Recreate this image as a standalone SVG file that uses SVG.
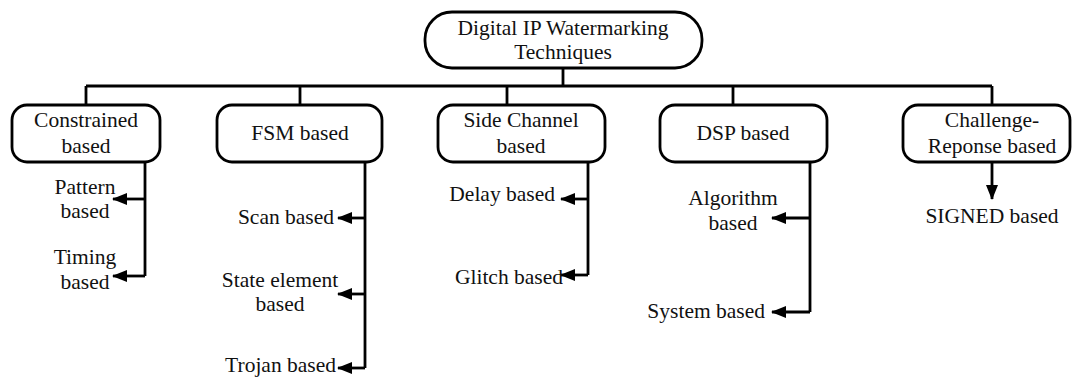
<svg xmlns="http://www.w3.org/2000/svg" width="1073" height="378" viewBox="0 0 1073 378">
<style>
.box{fill:#fff;stroke:#000;stroke-width:2.8}
.ln{fill:none;stroke:#000;stroke-width:2.8}
text{font-family:"Liberation Serif","Times New Roman",serif;font-size:21.5px;fill:#111}
.c{text-anchor:middle}
.e{text-anchor:end}
</style>
<defs>
<marker id="ah" markerWidth="15" markerHeight="12" refX="14" refY="6" orient="auto" markerUnits="userSpaceOnUse">
<path d="M0,0 L15,6 L0,12 Z" fill="#000"/>
</marker>
</defs>
<rect width="1073" height="378" fill="#fff"/>
<g id="connectors">
<path class="ln" d="M563,68 V86 M86,86 H992 M86,86 V105 M300,86 V105 M507,86 V105 M733,86 V105 M992,86 V105"/>
<path class="ln" d="M145,162 V276"/>
<path class="ln" d="M145,199 H113" marker-end="url(#ah)"/>
<path class="ln" d="M145,276 H113" marker-end="url(#ah)"/>
<path class="ln" d="M365,162 V368"/>
<path class="ln" d="M365,218 H338" marker-end="url(#ah)"/>
<path class="ln" d="M365,294 H338" marker-end="url(#ah)"/>
<path class="ln" d="M365,368 H338" marker-end="url(#ah)"/>
<path class="ln" d="M588,162 V275"/>
<path class="ln" d="M588,199 H561" marker-end="url(#ah)"/>
<path class="ln" d="M588,275 H561" marker-end="url(#ah)"/>
<path class="ln" d="M810,162 V312"/>
<path class="ln" d="M810,218 H772" marker-end="url(#ah)"/>
<path class="ln" d="M810,312 H772" marker-end="url(#ah)"/>
<path class="ln" d="M992,162 V199" marker-end="url(#ah)"/>
</g>
<g id="root">
<rect class="box" x="425" y="12" width="277" height="56" rx="27"/>
<text class="c" x="563" y="35">Digital IP Watermarking</text>
<text class="c" x="563" y="59">Techniques</text>
</g>
<g id="constrained">
<rect class="box" x="12" y="105" width="148" height="57" rx="15"/>
<text class="c" x="86" y="127">Constrained</text>
<text class="c" x="86" y="153">based</text>
</g>
<g id="fsm">
<rect class="box" x="217" y="105" width="165" height="57" rx="15"/>
<text class="c" x="300" y="140">FSM based</text>
</g>
<g id="sidechannel">
<rect class="box" x="438" y="105" width="167" height="57" rx="15"/>
<text class="c" x="521" y="127">Side Channel</text>
<text class="c" x="521" y="153">based</text>
</g>
<g id="dsp">
<rect class="box" x="660" y="105" width="167" height="57" rx="15"/>
<text class="c" x="743" y="140">DSP based</text>
</g>
<g id="challenge">
<rect class="box" x="903" y="105" width="167" height="57" rx="15"/>
<text class="c" x="992" y="127">Challenge-</text>
<text class="c" x="992" y="153">Reponse based</text>
</g>
<g id="pattern"><text class="c" x="85" y="194">Pattern</text><text class="c" x="85" y="218">based</text></g>
<g id="timing"><text class="c" x="85" y="264">Timing</text><text class="c" x="85" y="289">based</text></g>
<g id="scan"><text class="e" x="334" y="224">Scan based</text></g>
<g id="state"><text class="c" x="280" y="287">State element</text><text class="c" x="280" y="311">based</text></g>
<g id="trojan"><text class="e" x="336" y="372">Trojan based</text></g>
<g id="delay"><text class="e" x="555" y="201">Delay based</text></g>
<g id="glitch"><text class="e" x="563" y="284">Glitch based</text></g>
<g id="algorithm"><text class="c" x="733" y="205">Algorithm</text><text class="c" x="733" y="230">based</text></g>
<g id="system"><text class="e" x="765" y="318">System based</text></g>
<g id="signed"><text class="c" x="992" y="223">SIGNED based</text></g>
</svg>
